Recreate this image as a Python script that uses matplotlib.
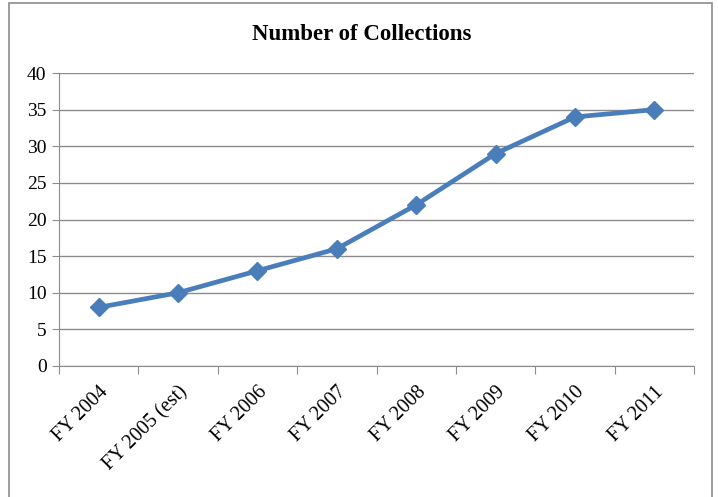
import matplotlib.pyplot as plt
from matplotlib.patches import Rectangle

years = ['FY 2004', 'FY 2005 (est)', 'FY 2006', 'FY 2007', 'FY 2008',
         'FY 2009', 'FY 2010', 'FY 2011']
collections = [8, 10, 13, 16, 22, 29, 34, 35]
yticks = [0, 5, 10, 15, 20, 25, 30, 35, 40]

plt.rcParams['font.family'] = ['Liberation Serif', 'DejaVu Serif']

fig = plt.figure(figsize=(7.18, 4.97), dpi=100)
ax = fig.add_axes([0.0822, 0.2636, 0.8844, 0.5895])

# outer chart border like the excel chart frame
fig.patches.append(Rectangle((0.0125, -0.1), 0.979, 1.094, transform=fig.transFigure,
                             fill=False, edgecolor='#8c8c8c', linewidth=1.2))

x = range(len(years))
ax.plot(x, collections, color='#4a7ebb', linewidth=3.4, marker='D',
        markersize=9, zorder=3)

ax.set_xlim(-0.5, len(years) - 0.5)
ax.set_ylim(0, 40)
ax.set_yticks(yticks)
# tick marks between categories, labels on the categories
ax.set_xticks([i - 0.5 for i in range(len(years) + 1)], minor=False)
ax.set_xticklabels([])
ax.set_xticks(list(x), minor=True)
ax.set_xticklabels(years, minor=True, rotation=45, ha='right',
                   rotation_mode='anchor', fontsize=14.5)
ax.tick_params(axis='x', which='minor', length=0, pad=12)
ax.tick_params(axis='x', which='major', length=6, color='#8c8c8c')
ax.tick_params(axis='y', length=5, color='#8c8c8c', labelsize=14, pad=4)

ax.grid(axis='y', color='#8c8c8c', linewidth=1)
ax.set_axisbelow(True)
for s in ['top', 'right']:
    ax.spines[s].set_visible(False)
for s in ['left', 'bottom']:
    ax.spines[s].set_color('#8c8c8c')

fig.text(0.504, 0.93, 'Number of Collections', ha='center', va='center',
         fontsize=16.5, fontweight='bold')

fig.savefig('out.png', dpi=100)
